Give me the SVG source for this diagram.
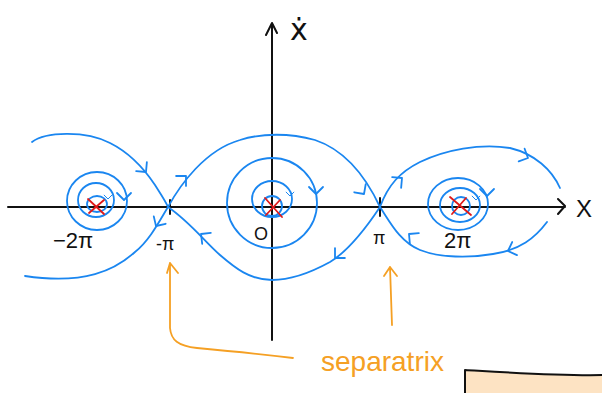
<svg xmlns="http://www.w3.org/2000/svg" width="602" height="393" viewBox="0 0 602 393">
<defs>
<style>
.ax{stroke:#111;stroke-width:2;fill:none;stroke-linecap:round;stroke-linejoin:round}
.tr{stroke:#1a86f0;stroke-width:1.8;fill:none;stroke-linecap:round;stroke-linejoin:round}
.rx{stroke:#e01818;stroke-width:1.8;stroke-linecap:round}
.or{stroke:#f5a024;stroke-width:1.8;fill:none;stroke-linecap:round;stroke-linejoin:round}
.lb{font-family:"Liberation Sans",Arial,sans-serif;fill:#111}
</style>
<path id="chev" d="M-7,-7 L0,0 L-7,7" class="tr"/>
</defs>
<rect width="602" height="393" fill="#fff"/>
<g id="axes">
<path class="ax" d="M8,207 L565,207 M558,199 L565,206 L558,214"/>
<path class="ax" d="M272,340 L272,23 M266,35 L272,23 L277,33"/>
<path class="ax" d="M170,200 L170,214 M380,198 L380,216"/>
<text class="lb" x="576" y="217" font-size="24">X</text>
<text x="290" y="40" font-size="30" font-family="DejaVu Sans,sans-serif" fill="#111">ẋ</text>
<text class="lb" x="53" y="248" font-size="22">−2π</text>
<text class="lb" x="156" y="250" font-size="18">-π</text>
<text class="lb" x="254" y="240" font-size="18">O</text>
<text class="lb" x="373" y="244" font-size="18">π</text>
<text class="lb" x="444" y="248" font-size="22">2π</text>
</g>
<g id="center-neg2pi">
<ellipse class="tr" cx="97" cy="201" rx="30" ry="29"/>
<ellipse class="tr" cx="96" cy="200" rx="18" ry="17"/>
<ellipse class="tr" cx="97" cy="204" rx="10" ry="8"/>
<path class="rx" d="M88,199 L104,214 M104,200 L89,213"/>
</g>
<g id="center-0">
<circle class="tr" cx="272" cy="203" r="45"/>
<ellipse class="tr" cx="272" cy="199" rx="20" ry="18"/>
<circle class="tr" cx="272" cy="206" r="10"/>
<path class="rx" d="M265,198 L282,217 M280,200 L266,215"/>
</g>
<g id="center-2pi">
<ellipse class="tr" cx="458" cy="204" rx="30" ry="26"/>
<ellipse class="tr" cx="460" cy="205" rx="20" ry="17"/>
<circle class="tr" cx="461" cy="206" r="9"/>
<path class="rx" d="M450,197 L471,215 M466,198 L452,214"/>
</g>
<g id="connectors">
<path class="tr" d="M32,142 C45,132 85,130 110,143 C130,153 145,170 155,185 C160,193 165,200 168,207"/>
<path class="tr" d="M168,207 C160,220 150,240 135,252 C115,270 85,285 25,276"/>
<path class="tr" d="M168,207 C180,185 205,150 240,140 C262,133 290,133 315,140 C345,150 365,175 380,207"/>
<path class="tr" d="M380,207 C368,225 350,250 330,262 C310,273 290,280 272,280 C250,280 235,268 220,255 C205,242 190,222 168,207"/>
<path class="tr" d="M380,207 C388,185 400,172 420,162 C445,150 480,143 510,148 C535,154 552,170 560,188"/>
<path class="tr" d="M547,222 C535,238 520,250 493,254 C470,258 440,258 420,250 C400,242 390,222 380,207"/>
<use href="#chev" transform="translate(146,172) rotate(50)"/>
<use href="#chev" transform="translate(156,226) rotate(122)"/>
<use href="#chev" transform="translate(124,200) rotate(90)"/>
<use href="#chev" transform="translate(108,199) rotate(90) scale(0.55)"/>
<use href="#chev" transform="translate(186,176) rotate(-45)"/>
<use href="#chev" transform="translate(364,194) rotate(55)"/>
<use href="#chev" transform="translate(335,258) rotate(135)"/>
<use href="#chev" transform="translate(201,234) rotate(-142)"/>
<use href="#chev" transform="translate(316,194) rotate(90)"/>
<use href="#chev" transform="translate(290,196) rotate(90) scale(0.55)"/>
<use href="#chev" transform="translate(402,178) rotate(-40)"/>
<use href="#chev" transform="translate(409,234) rotate(-140)"/>
<use href="#chev" transform="translate(528,158) rotate(25)"/>
<use href="#chev" transform="translate(508,251) rotate(160)"/>
<use href="#chev" transform="translate(487,196) rotate(90)"/>
<use href="#chev" transform="translate(476,200) rotate(90) scale(0.55)"/>
</g>
<g id="annotation">
<path class="or" d="M167,273 L170,263 L178,273 M170,263 L170,328 C171,340 178,346 197,348 C230,351 260,354 293,358"/>
<path class="or" d="M384,276 L390,267 L397,276 M390,267 L392,325"/>
<text x="321" y="371" font-family="Liberation Sans,Arial,sans-serif" font-size="28" fill="#f5a024">separatrix</text>
</g>
<g id="panel">
<path d="M465,370 C500,372 560,376 602,375 L602,393 L465,393 Z" fill="#fde3c3"/>
<path d="M465,393 L465,370 C500,372 560,376 602,375" class="ax" stroke-width="1.6"/>
</g>
</svg>
